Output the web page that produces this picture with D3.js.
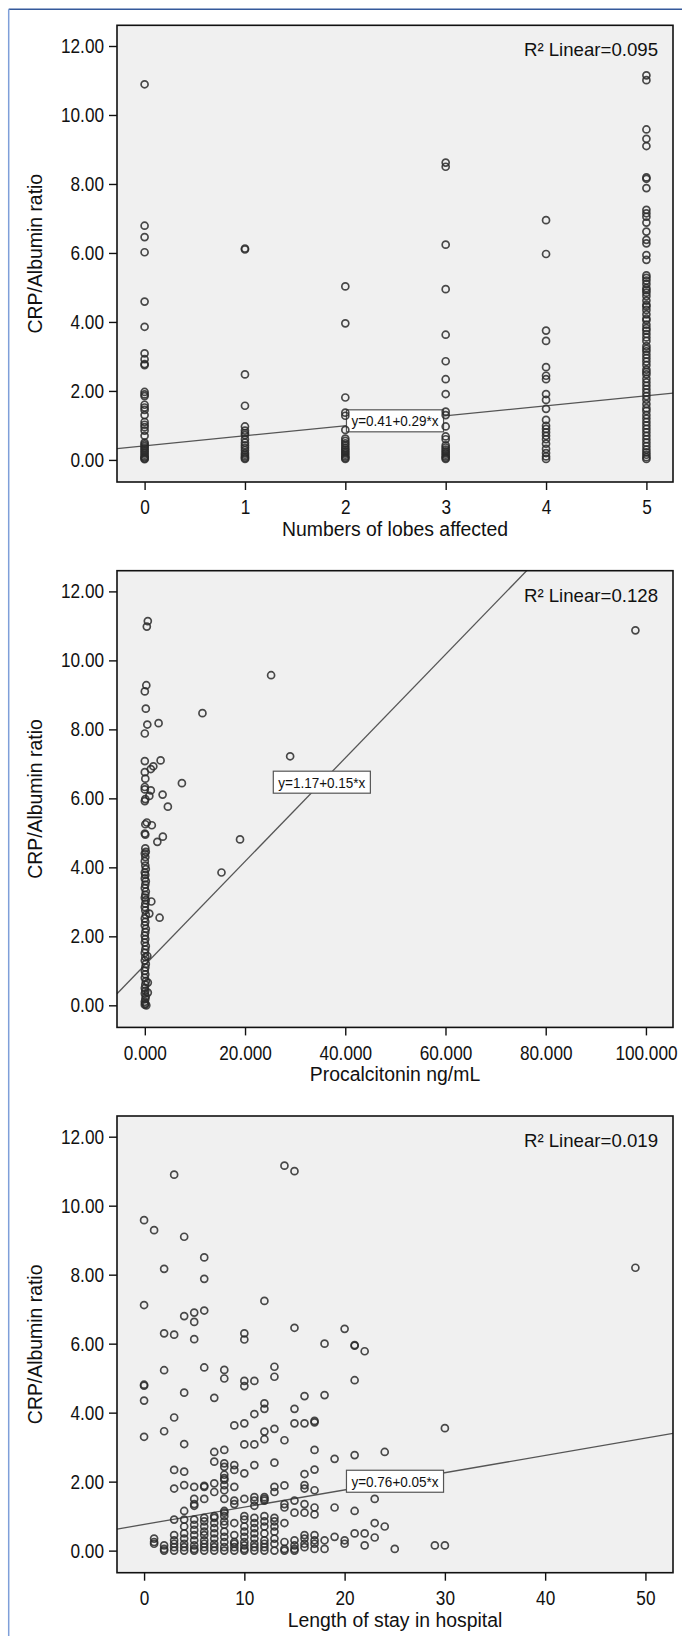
<!DOCTYPE html>
<html>
<head>
<meta charset="utf-8">
<script src="https://cdn.jsdelivr.net/npm/d3@7"></script>
<style>
  body { margin: 0; background: #fff; }
  svg text { font-family: "Liberation Sans", Arial, sans-serif; fill: #111; }
</style>
</head>
<body>
<svg width="682" height="1636"></svg>
<script>
// ---- data ----
const yTicks = [0, 2, 4, 6, 8, 10, 12];
const yTitle = "CRP/Albumin ratio";

// panel 1: numbers of lobes affected
const lobes = [0, 1, 2, 3, 4, 5];
const lobeRatios = [
  [10.89, 6.79, 6.46, 6.02, 4.59, 3.86, 3.09, 2.92, 2.78, 2.75, 1.97, 1.90, 1.85, 1.60, 1.52, 1.45, 1.30, 1.10, 1.02, 0.95, 0.85, 0.70, 0.50, 0.45, 0.40, 0.35, 0.30, 0.25, 0.20, 0.15, 0.10, 0.07, 0.04, 0.02],
  [6.13, 6.10, 2.48, 1.57, 0.97, 0.85, 0.78, 0.72, 0.60, 0.50, 0.42, 0.35, 0.28, 0.20, 0.15, 0.10, 0.06, 0.03],
  [5.03, 3.96, 1.81, 1.37, 1.28, 0.87, 0.62, 0.55, 0.48, 0.42, 0.35, 0.30, 0.25, 0.20, 0.15, 0.10, 0.06, 0.03],
  [8.62, 8.50, 6.24, 4.95, 3.63, 2.86, 2.34, 1.91, 1.40, 1.30, 0.97, 0.68, 0.60, 0.42, 0.36, 0.30, 0.25, 0.20, 0.15, 0.10, 0.06, 0.03],
  [6.95, 5.97, 3.75, 3.45, 2.69, 2.44, 2.34, 1.91, 1.74, 1.48, 1.16, 0.99, 0.90, 0.80, 0.70, 0.60, 0.47, 0.32, 0.20, 0.10, 0.03],
  [11.15, 11.01, 9.58, 9.31, 9.10, 8.19, 8.15, 7.88, 7.25, 7.15, 7.05, 6.88, 6.62, 6.38, 6.28, 5.94, 5.80, 5.35, 5.28, 5.20, 5.10, 4.98, 4.92, 4.85, 4.75, 4.62, 4.50, 4.45, 4.35, 4.22, 4.10, 4.05, 3.92, 3.82, 3.75, 3.65, 3.55, 3.45, 3.30, 3.22, 3.15, 3.05, 2.95, 2.85, 2.75, 2.62, 2.55, 2.48, 2.35, 2.25, 2.15, 2.05, 1.95, 1.85, 1.75, 1.62, 1.50, 1.42, 1.30, 1.20, 1.10, 1.00, 0.90, 0.80, 0.70, 0.60, 0.50, 0.40, 0.30, 0.22, 0.15, 0.08, 0.03]
];

// panel 2: procalcitonin [ng/mL, ratio]
const pctPoints = [
  [0.6, 11.14], [0.4, 10.98], [0.3, 9.28], [0.0, 9.10], [0.2, 8.60], [0.5, 8.14], [2.75, 8.18], [0, 7.88],
  [11.5, 8.47], [25.2, 9.57], [0, 7.08], [3.15, 7.10], [1.7, 6.93], [1.2, 6.85], [0, 6.76], [0.1, 6.57],
  [0, 6.33], [0, 6.26], [1.2, 6.23], [3.55, 6.11], [0.1, 5.98], [0, 5.92], [0.9, 6.07], [7.4, 6.44],
  [29.0, 7.22], [4.6, 5.76], [0.4, 5.30], [0.1, 5.25], [1.4, 5.22], [0, 4.98], [0.1, 4.95], [3.6, 4.89],
  [2.5, 4.74], [19.0, 4.81], [15.3, 3.85], [1.3, 3.01], [0.9, 2.66], [2.95, 2.54], [0.5, 1.43], [0.6, 0.66],
  [0.6, 0.37], [97.9, 10.87],
  [0.1, 4.55], [0.2, 4.45], [0, 4.40], [0.1, 4.30], [0, 4.18], [0.1, 4.05], [0.2, 3.95], [0, 3.85],
  [0.1, 3.78], [0, 3.68], [0.2, 3.60], [0.1, 3.50], [0, 3.40], [0.2, 3.30], [0.1, 3.20], [0, 3.12],
  [0.2, 3.05], [0.1, 2.95], [0, 2.85], [0.1, 2.75], [0.2, 2.62], [0, 2.52], [0.1, 2.42], [0, 2.32],
  [0.2, 2.22], [0.1, 2.12], [0, 2.02], [0.1, 1.92], [0, 1.82], [0.2, 1.72], [0.1, 1.62], [0, 1.52],
  [0.1, 1.40], [0, 1.30], [0.2, 1.20], [0.1, 1.10], [0, 1.00], [0.1, 0.90], [0, 0.80], [0.2, 0.70],
  [0.1, 0.60], [0, 0.50], [0.1, 0.42], [0, 0.34], [0.2, 0.26], [0.1, 0.18], [0, 0.10], [0.1, 0.05],
  [0, 0.02], [0.3, 0.0]
];

// panel 3: length of stay in hospital [day, ratios]
const stayRatios = [
  [0, [9.58, 7.12, 4.81, 4.78, 4.35, 3.30]],
  [1, [9.29, 0.35, 0.25, 0.20]],
  [2, [8.17, 6.30, 5.23, 3.46, 0.15, 0.05, 0.0]],
  [3, [10.9, 6.26, 3.86, 2.34, 1.80, 0.90, 0.45, 0.30, 0.20, 0.10, 0.0]],
  [4, [9.10, 6.80, 4.58, 3.09, 2.29, 1.90, 1.15, 0.90, 0.70, 0.50, 0.35, 0.20, 0.10, 0.0]],
  [5, [6.90, 6.63, 6.13, 1.85, 1.50, 1.35, 1.30, 0.90, 0.75, 0.60, 0.45, 0.30, 0.15, 0.05, 0.0]],
  [6, [8.50, 7.88, 6.96, 5.31, 1.88, 1.85, 1.50, 0.95, 0.85, 0.70, 0.55, 0.45, 0.30, 0.20, 0.10, 0.0]],
  [7, [4.43, 2.86, 2.58, 1.95, 1.70, 1.00, 0.95, 0.80, 0.65, 0.50, 0.35, 0.20, 0.10, 0.0]],
  [8, [5.24, 4.99, 2.92, 2.53, 2.43, 2.20, 2.10, 2.05, 1.90, 1.75, 1.50, 1.15, 1.10, 1.00, 0.85, 0.75, 0.55, 0.40, 0.25, 0.10, 0.0]],
  [9, [3.63, 2.48, 2.34, 1.85, 1.45, 1.35, 0.80, 0.45, 0.25, 0.20, 0.10, 0.0]],
  [10, [6.30, 6.12, 4.92, 4.77, 3.69, 3.08, 2.24, 1.50, 1.00, 0.90, 0.70, 0.55, 0.40, 0.25, 0.15, 0.05, 0.0]],
  [11, [4.92, 3.96, 3.08, 2.48, 1.55, 1.45, 1.30, 0.95, 0.80, 0.65, 0.50, 0.35, 0.20, 0.10, 0.0]],
  [12, [7.24, 4.27, 4.11, 3.45, 3.23, 1.55, 1.50, 1.45, 1.00, 0.85, 0.70, 0.50, 0.30, 0.20, 0.10, 0.0]],
  [13, [5.33, 5.04, 3.53, 2.55, 1.85, 1.70, 0.95, 0.85, 0.70, 0.55, 0.35, 0.20, 0.0]],
  [14, [11.16, 3.20, 1.89, 1.35, 1.25, 0.80, 0.25, 0.05, 0.0]],
  [15, [11.0, 6.46, 4.11, 3.69, 1.45, 1.10, 0.30, 0.15, 0.05, 0.0]],
  [16, [4.48, 3.69, 2.22, 1.90, 1.80, 1.35, 1.10, 0.45, 0.35, 0.20, 0.10]],
  [17, [3.76, 3.72, 2.92, 2.35, 1.75, 1.25, 1.05, 0.45, 0.30, 0.20, 0.05]],
  [18, [6.00, 4.51, 0.30, 0.05]],
  [19, [2.66, 1.25, 0.40]],
  [20, [6.43, 0.30, 0.20]],
  [21, [5.96, 5.94, 4.94, 2.77, 1.15, 0.50]],
  [22, [5.78, 0.50, 0.15]],
  [23, [1.50, 0.80, 0.38]],
  [24, [2.86, 0.70]],
  [25, [0.05]],
  [29, [0.15]],
  [30, [3.55, 0.15]],
  [49, [8.20]]
];

const xTitles = ["Numbers of lobes affected", "Procalcitonin ng/mL", "Length of stay in hospital"];
const xTickSets = [[0, 1, 2, 3, 4, 5], [0, 20, 40, 60, 80, 100], [0, 10, 20, 30, 40, 50]];
const xTickFormats = [d3.format("d"), d3.format(".3f"), d3.format("d")];
const xDomains = [[-0.275, 5.265], [-5.55, 105.4], [-2.7, 52.75]];
const yDomain = [-0.64, 12.6];
const intercepts = [0.41, 1.17, 0.76];
const slopes = [0.29, 0.15, 0.05];
const r2Labels = ["0.095", "0.128", "0.019"];

// squeeze text horizontally to mimic the condensed face of the original
function condense(sel, k) {
  sel.each(function () {
    const w = this.getComputedTextLength();
    d3.select(this).attr("textLength", w * k).attr("lengthAdjust", "spacingAndGlyphs");
  });
}

// ---- layout ----
const svg = d3.select("svg");
const left = 117, W = 556, H = 456.7;
const tops = [25.3, 570.7, 1116];
const tickStretch = 1.16; // tick labels: smaller font, stretched tall

// page border
svg.append("line").attr("x1", 8.7).attr("x2", 682).attr("y1", 9.3).attr("y2", 9.3)
  .attr("stroke", "#34599b").attr("stroke-width", 1.5);
svg.append("line").attr("x1", 8.7).attr("x2", 8.7).attr("y1", 9.3).attr("y2", 1636)
  .attr("stroke", "#7f9fd9").attr("stroke-width", 1.5);

const panelPoints = [
  lobes.flatMap((c, i) => lobeRatios[i].map(v => [c, v])),
  pctPoints,
  stayRatios.flatMap(([d, vals]) => vals.map(v => [d, v]))
];

panelPoints.forEach((pts, i) => {
  const g = svg.append("g").attr("transform", `translate(${left},${tops[i]})`);
  const x = d3.scaleLinear().domain(xDomains[i]).range([0, W]);
  const y = d3.scaleLinear().domain(yDomain).range([H, 0]);
  const a = intercepts[i], b = slopes[i];

  g.append("rect").attr("width", W).attr("height", H).attr("fill", "#f0f0f0");

  g.append("clipPath").attr("id", "clip" + i)
    .append("rect").attr("width", W).attr("height", H);
  const plot = g.append("g").attr("clip-path", `url(#clip${i})`);

  // fit line
  const [x0, x1] = xDomains[i];
  plot.append("line")
    .attr("x1", x(x0)).attr("y1", y(a + b * x0))
    .attr("x2", x(x1)).attr("y2", y(a + b * x1))
    .attr("stroke", "#555").attr("stroke-width", 1.3);

  // equation label, centred on the visible part of the line
  const xa = Math.max(x0, (yDomain[0] - a) / b);
  const xb = Math.min(x1, (yDomain[1] - a) / b);
  const xm = (xa + xb) / 2, ym = a + b * xm;
  const lab = plot.append("g").attr("transform", `translate(${x(xm)},${y(ym)})`);
  const box = lab.append("rect").attr("fill", "#fff").attr("stroke", "#555").attr("stroke-width", 1.2);
  const t = lab.append("text").attr("text-anchor", "middle").attr("dy", "0.36em")
    .style("font-size", "15px").text(`y=${a.toFixed(2)}+${b.toFixed(2)}*x`);
  const tw = t.node().getComputedTextLength() * 0.9;
  t.attr("textLength", tw).attr("lengthAdjust", "spacingAndGlyphs");
  box.attr("x", -tw / 2 - 5).attr("y", -11).attr("width", tw + 10).attr("height", 22);

  plot.selectAll("circle.pt").data(pts).enter().append("circle")
    .attr("class", "pt")
    .attr("cx", d => x(d[0])).attr("cy", d => y(d[1])).attr("r", 3.5)
    .attr("fill", "none").attr("stroke", "#2a2a2a").attr("stroke-opacity", 0.85).attr("stroke-width", 1.7);

  const r2 = g.append("text").attr("x", W - 15).attr("y", 31).attr("text-anchor", "end")
    .style("font-size", "19px").text(`R² Linear=${r2Labels[i]}`);
  condense(r2, 0.98);

  g.append("rect").attr("width", W).attr("height", H)
    .attr("fill", "none").attr("stroke", "#111").attr("stroke-width", 1.6);

  // axes
  const yAx = g.append("g").call(d3.axisLeft(y).tickValues(yTicks).tickFormat(d3.format(".2f")).tickSize(8).tickPadding(5));
  const xAx = g.append("g").attr("transform", `translate(0,${H})`)
    .call(d3.axisBottom(x).tickValues(xTickSets[i]).tickFormat(xTickFormats[i]).tickSize(8).tickPadding(10));
  [yAx, xAx].forEach(ax => {
    ax.select(".domain").remove();
    ax.selectAll(".tick line").attr("stroke", "#111").attr("stroke-width", 1.4);
    ax.selectAll(".tick text").style("font-size", "17.2px").attr("fill", "#111")
      .attr("transform", `scale(1,${tickStretch})`);
  });
  xAx.selectAll(".tick text").attr("y", 18 / tickStretch);

  const xt = g.append("text").attr("x", W / 2).attr("y", H + 54).attr("text-anchor", "middle")
    .style("font-size", "20px").text(xTitles[i]);
  const yt = g.append("text").attr("transform", `translate(${42 - left},${H / 2}) rotate(-90)`)
    .attr("text-anchor", "middle").style("font-size", "20px").text(yTitle);
  condense(xt, 0.97);
  condense(yt, 0.97);
});
</script>
</body>
</html>
